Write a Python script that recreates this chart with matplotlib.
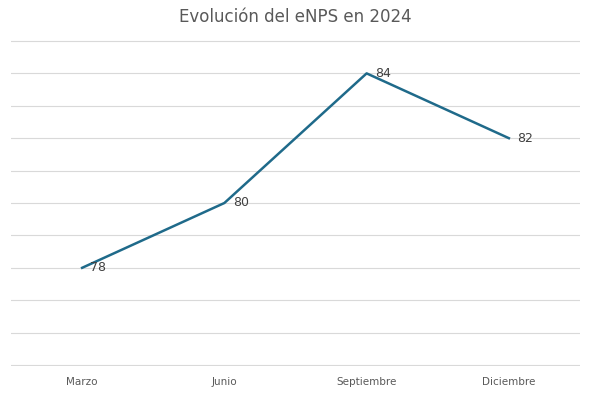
import matplotlib.pyplot as plt

meses = ["Marzo", "Junio", "Septiembre", "Diciembre"]
enps = [78, 80, 84, 82]

fig = plt.figure(figsize=(5.9, 3.93), dpi=100)
ax = fig.add_axes([11 / 590, 1 - 366 / 393, 569 / 590, 326 / 393])

x = range(len(meses))
ax.plot(x, enps, color="#1F6A8A", linewidth=1.8)

for xi, v in zip(x, enps):
    ax.annotate(str(v), (xi, v), xytext=(6, 0), textcoords="offset points",
                ha="left", va="center", fontsize=9, color="#404040")

ax.set_xlim(-0.5, len(meses) - 0.5)
ax.set_ylim(74.97, 85.03)
ax.set_yticks(range(75, 86))
ax.set_yticklabels([])
ax.set_xticks(list(x))
ax.set_xticklabels(meses, fontsize=7.5, color="#595959")
ax.tick_params(axis="both", length=0, pad=8)
ax.grid(axis="y", color="#D9D9D9", linewidth=0.8)
ax.set_axisbelow(True)
for s in ax.spines.values():
    s.set_visible(False)

fig.suptitle("Evolución del eNPS en 2024", y=0.98, fontsize=12, color="#595959")

fig.savefig("out.png", dpi=100)
